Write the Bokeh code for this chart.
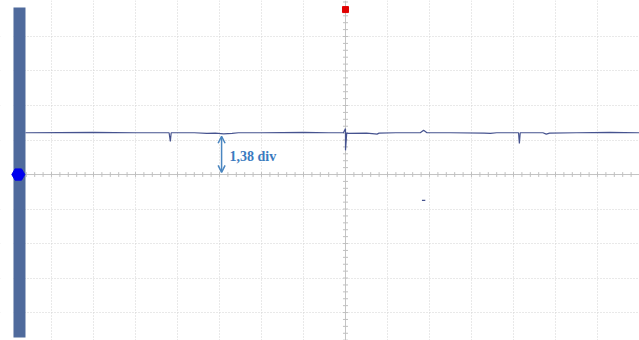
from bokeh.plotting import figure
from bokeh.models import Range1d, FixedTicker, Arrow, OpenHead
from bokeh.core.properties import value
from bokeh.embed import file_html
from bokeh.resources import INLINE
import numpy as np

# ---- data (in screen divisions; centre = 0,0) ----
trace_t = [-7.62, -6.0, -5.0, -4.20, -4.17, -4.15, -3.6, -3.30, -3.10, -2.90, -2.70, -2.55,
           -2.0, -1.0, -0.40, -0.05, 0.0, 0.0, 0.03, 0.06, 0.5, 0.70, 0.75, 0.80, 1.2, 1.78,
           1.86, 1.94, 2.5, 3.3, 3.45, 3.6, 4.12, 4.14, 4.16, 4.70, 4.78, 4.86, 5.5, 6.3, 7.0]
trace_v = [1.21, 1.22, 1.21, 1.21, 0.96, 1.21, 1.21, 1.19, 1.20, 1.18, 1.19, 1.21,
           1.21, 1.22, 1.21, 1.21, 1.33, 0.70, 1.21, 1.19, 1.20, 1.18, 1.17, 1.20, 1.21, 1.21,
           1.28, 1.21, 1.21, 1.20, 1.19, 1.21, 1.21, 0.90, 1.21, 1.21, 1.17, 1.20, 1.21, 1.22, 1.21]
dash_t = [1.82, 1.90]
dash_v = [-0.75, -0.75]

x_divs = [-7, -6, -5, -4, -3, -2, -1, 1, 2, 3, 4, 5, 6, 7]
y_divs = [-4, -3, -2, -1, 1, 2, 3, 4]

offset_div = 1.38
offset_x = -2.95
ch_offset = [0.0]
trig_pos = [0.0]

XMIN, XMAX = -8.214, 7.0
YMIN, YMAX = -4.81, 5.043
BAR_L, BAR_R = -7.905, -7.619
BAR_B, BAR_T = -4.72, 4.84

p = figure(width=639, height=340, output_backend="svg", toolbar_location=None,
           x_range=Range1d(XMIN, XMAX), y_range=Range1d(YMIN, YMAX),
           x_axis_location=None, y_axis_location=None, min_border=0,
           outline_line_color=None, background_fill_color="white")

# dotted grid
p.xgrid.ticker = FixedTicker(ticks=x_divs)
p.ygrid.ticker = FixedTicker(ticks=y_divs)
for g in (p.xgrid, p.ygrid):
    g.grid_line_color = "#d2d2d2"
    g.grid_line_dash = "1 2"
    g.grid_line_width = 1

# centre axes with minor ticks
p.segment(x0=[BAR_R], y0=[0], x1=[XMAX], y1=[0], line_color="#c4c4c4", line_width=1)
p.segment(x0=[0], y0=[YMIN], x1=[0], y1=[YMAX], line_color="#c4c4c4", line_width=1)
mx = [v for v in np.arange(-7.6, 7.01, 0.2) if abs(v) > 1e-6]
my = [v for v in np.arange(-4.8, 5.01, 0.2) if abs(v) > 1e-6]
p.segment(x0=mx, y0=[-0.07] * len(mx), x1=mx, y1=[0.07] * len(mx), line_color="#c0c0c0")
p.segment(x0=[-0.06] * len(my), y0=my, x1=[0.06] * len(my), y1=my, line_color="#c0c0c0")

# white margin left of the bar, then the channel bar
p.quad(left=[XMIN], right=[BAR_L], bottom=[YMIN], top=[YMAX], fill_color="white", line_color=None)
p.quad(left=[BAR_L], right=[BAR_R], bottom=[BAR_B], top=[BAR_T],
       fill_color="#4f6a9c", line_color=None)

# trace
p.line(trace_t, trace_v, line_color="#46538f", line_width=1.2)
p.line(dash_t, dash_v, line_color="#46538f", line_width=1.2)

# offset arrow + label
arrow = Arrow(x_start=offset_x, y_start=trace_v[0] - 0.1, x_end=offset_x, y_end=0.06,
              line_color="#4a86c0", line_width=1.5,
              start=OpenHead(size=7, line_color="#4a86c0", line_width=1.5),
              end=OpenHead(size=7, line_color="#4a86c0", line_width=1.5))
p.add_layout(arrow)
p.text(x=[offset_x + 0.19], y=[trace_v[0] * 0.42], text=[f"{offset_div:.2f} div".replace(".", ",")],
       text_font=value("Liberation Serif"), text_font_style="bold", text_font_size="14px",
       text_color="#3b7bbf", text_baseline="middle", text_align="left")

# markers
p.scatter(x=[-7.79], y=ch_offset, marker="hex", size=13, fill_color="#0000ee", line_color="#0000ee")
p.scatter(x=trig_pos, y=[4.78], marker="square", size=6, fill_color="#e00000", line_color="#e00000")

open("out.html", "w").write(file_html(p, INLINE))
